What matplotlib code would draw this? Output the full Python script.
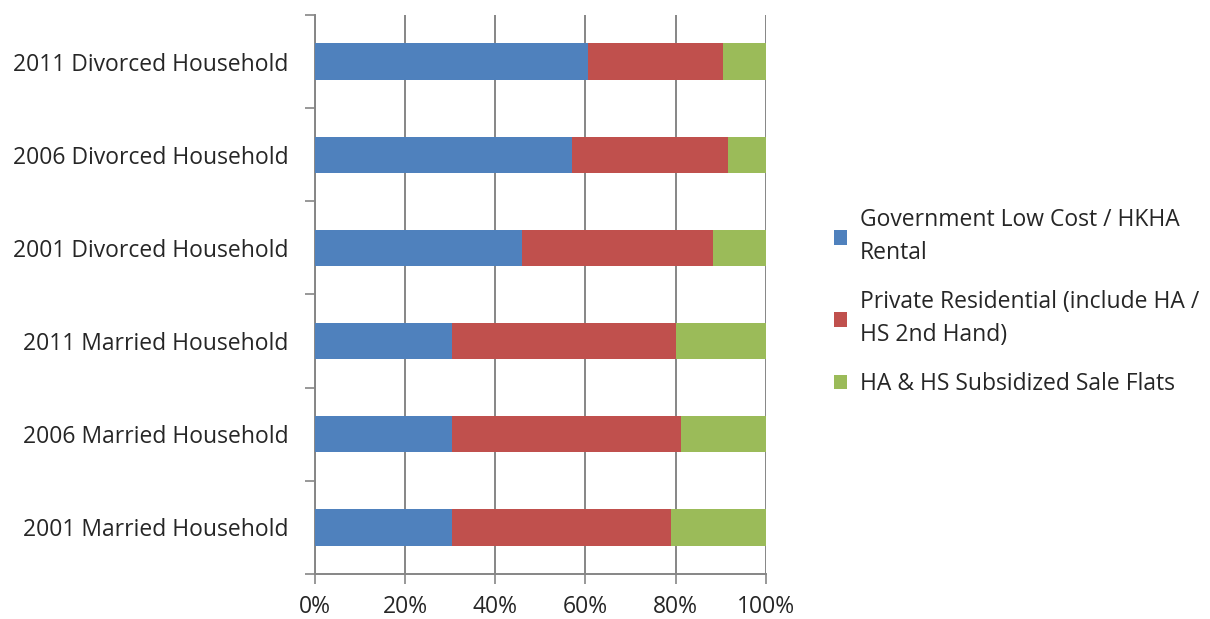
import matplotlib.pyplot as plt
import numpy as np
from matplotlib.patches import Patch

categories = ["2001 Married Household", "2006 Married Household", "2011 Married Household",
              "2001 Divorced Household", "2006 Divorced Household", "2011 Divorced Household"]
gov_rental = [30.5, 30.5, 30.5, 45.9, 57.1, 60.6]
private_res = [48.4, 50.6, 49.7, 42.3, 34.6, 29.9]
subsidized_sale = [21.1, 18.9, 19.8, 11.8, 8.3, 9.5]
series_names = ["Government Low Cost / HKHA\nRental",
                "Private Residential (include HA /\nHS 2nd Hand)",
                "HA & HS Subsidized Sale Flats"]
colors = ["#4F81BD", "#C0504D", "#9BBB59"]
xtick_vals = [0, 20, 40, 60, 80, 100]

plt.rcParams['font.family'] = ['Open Sans', 'DejaVu Sans']
txt_col = "#262626"
fs = 16.5

fig = plt.figure(figsize=(12.1, 6.19), dpi=100)
ax = fig.add_axes((0.2603, 0.0727, 0.3725, 0.9031))

y = np.arange(len(categories))
left = np.zeros(len(categories))
for vals, col in zip([gov_rental, private_res, subsidized_sale], colors):
    ax.barh(y, vals, left=left, height=0.39, color=col, zorder=3)
    left += np.array(vals)

ax.set_xlim(0, 100)
ax.set_ylim(-0.5, len(categories) - 0.5)
grid_col = "#868686"
ax.set_xticks(xtick_vals)
ax.set_xticklabels([f"{v}%" for v in xtick_vals], fontsize=fs, color=txt_col)
ax.set_yticks(y)
ax.set_yticklabels(categories, fontsize=fs, color=txt_col)
ax.tick_params(axis='y', which='major', length=0, pad=19)
ax.set_yticks(np.arange(-0.5, len(categories), 1), minor=True)
ax.tick_params(axis='y', which='minor', length=7, width=1.2, color=grid_col)
ax.tick_params(axis='x', length=7, width=1.2, color=grid_col, pad=8)
ax.grid(axis='x', color=grid_col, linewidth=1.4, zorder=0)
for s in ['top', 'right']:
    ax.spines[s].set_visible(False)
for s in ['left', 'bottom']:
    ax.spines[s].set_color(grid_col)
    ax.spines[s].set_linewidth(1.4)

handles = [Patch(facecolor=c, edgecolor='none') for c in colors]
leg = fig.legend(handles, series_names, loc='center left', bbox_to_anchor=(0.672, 0.512),
                 frameon=False, fontsize=fs, handlelength=0.6, handleheight=0.6,
                 handletextpad=0.55, labelspacing=1.1, labelcolor=txt_col)
for t in leg.get_texts():
    t.set_linespacing(1.5)

fig.savefig("out.png", dpi=100)
